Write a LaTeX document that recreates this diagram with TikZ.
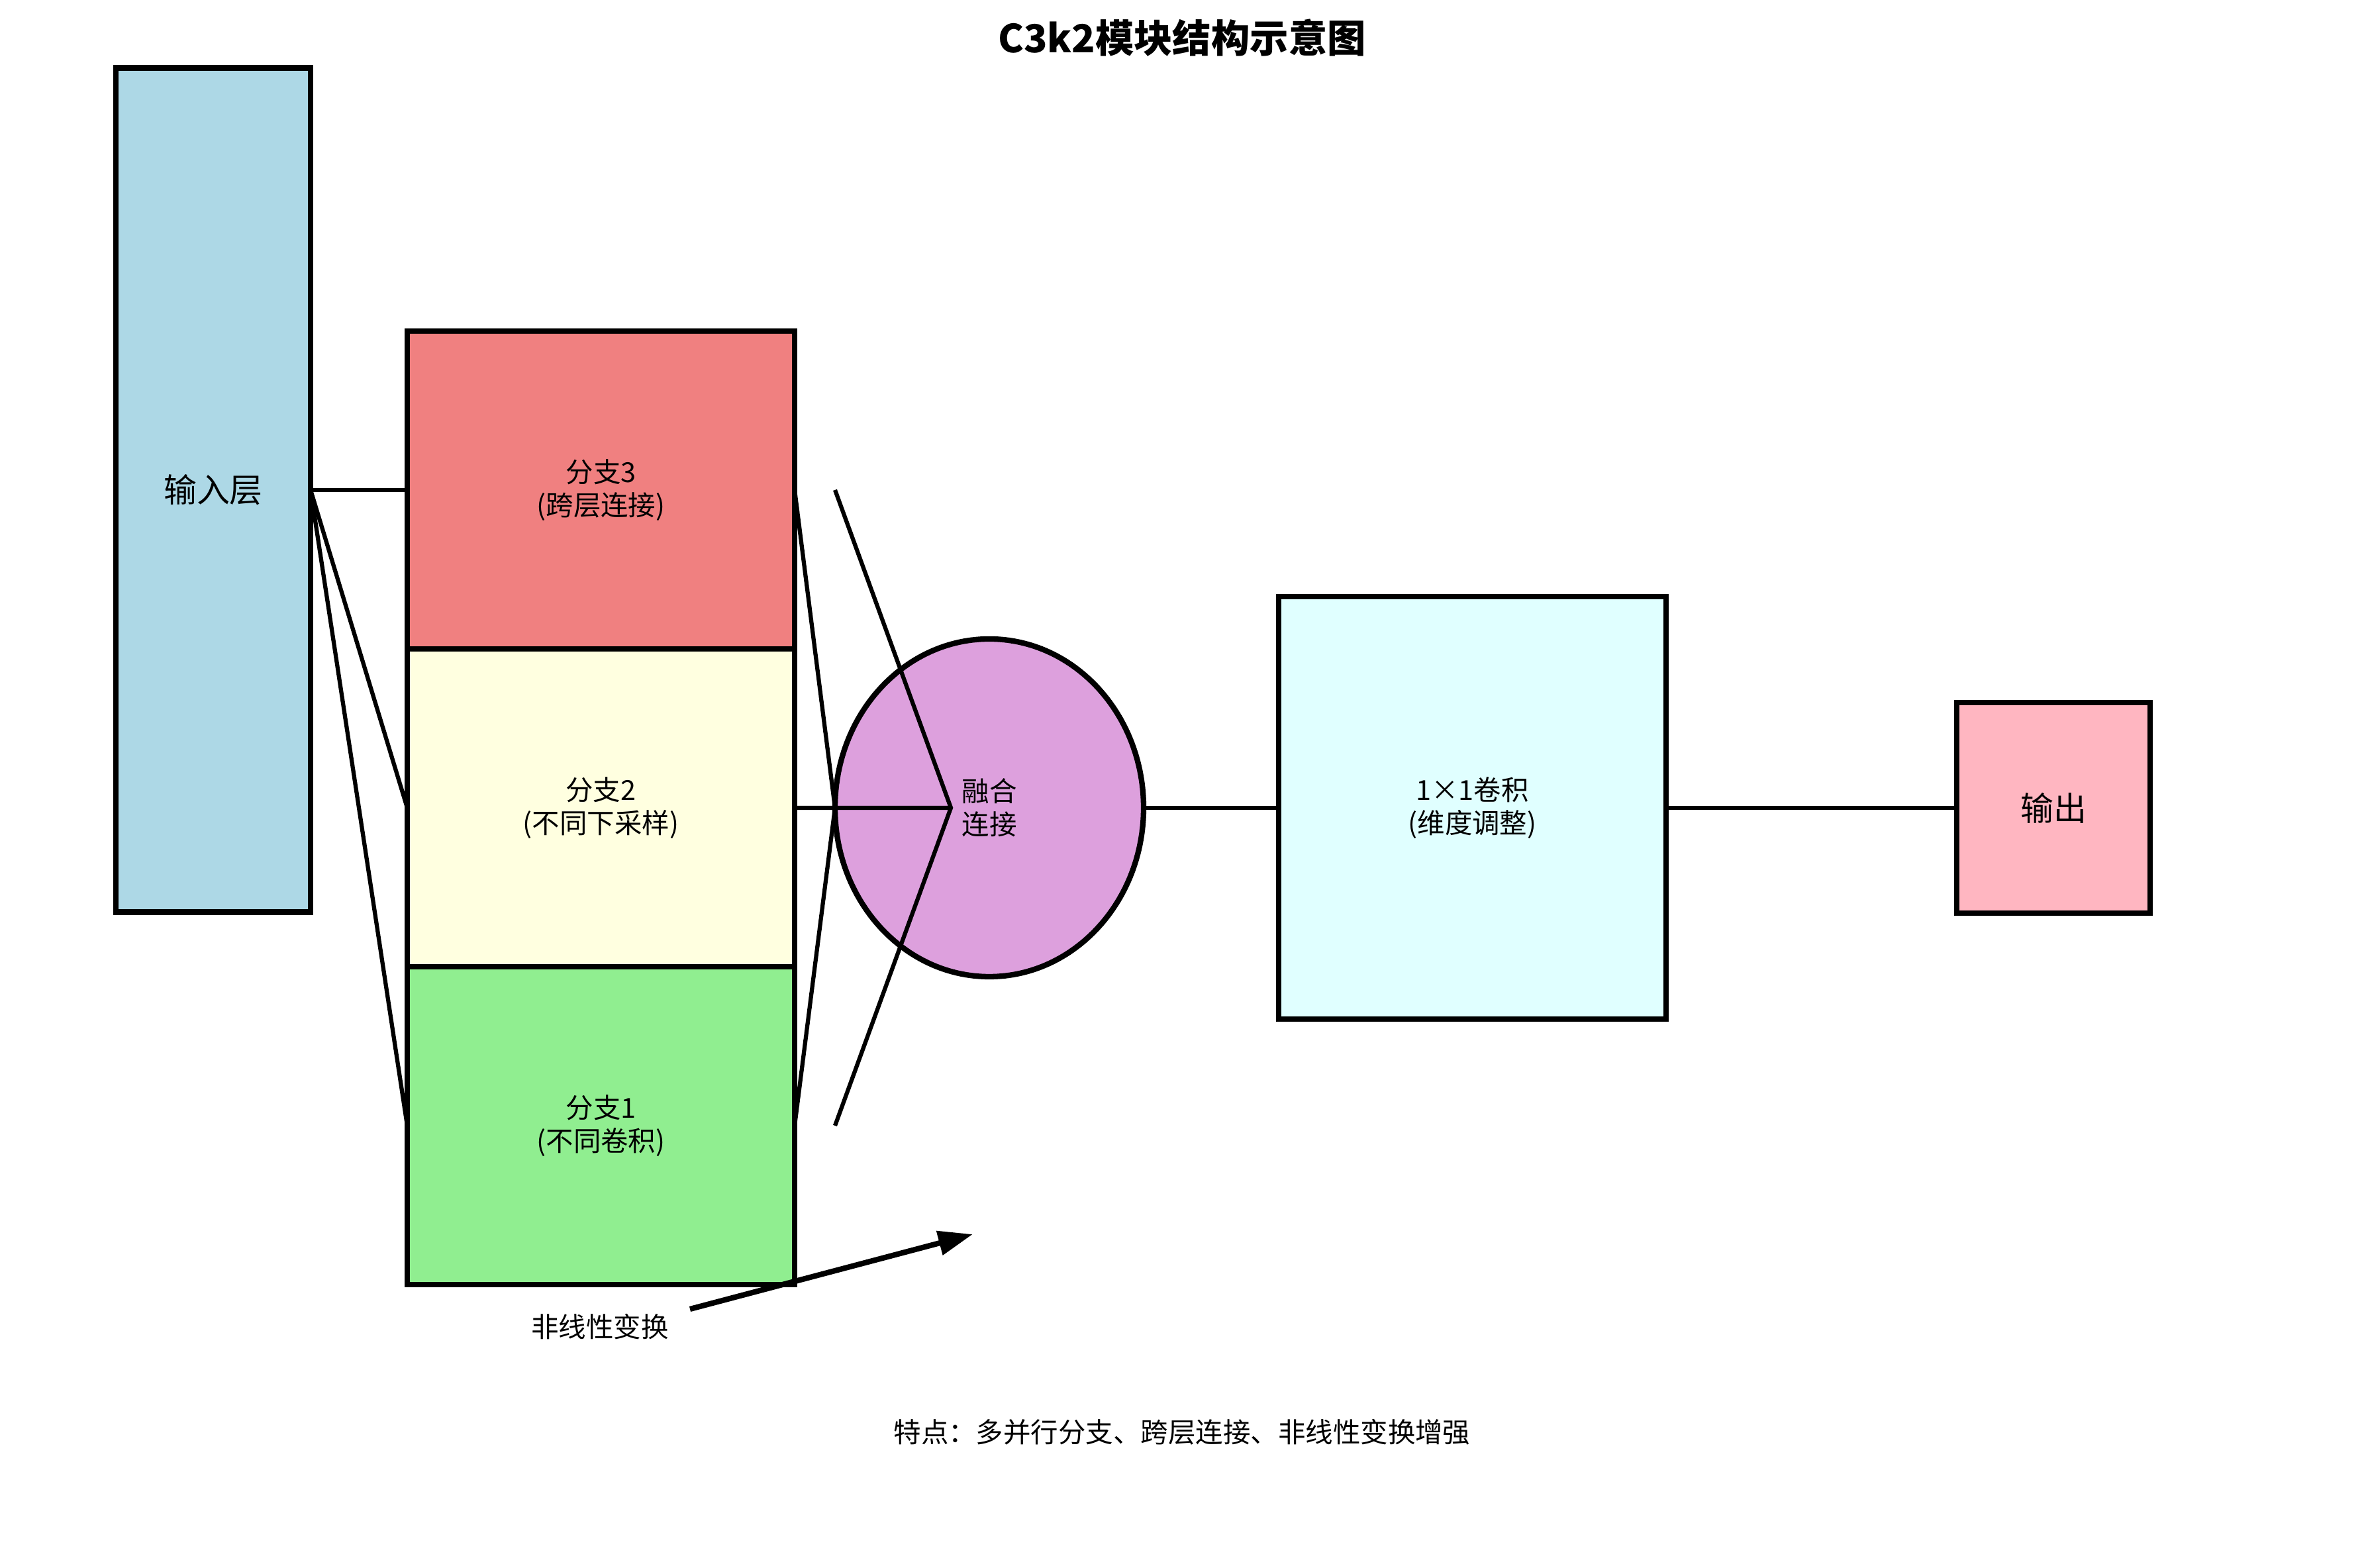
\documentclass[tikz,border=0pt]{standalone}
\usepackage{fontspec}
\setmainfont{Noto Sans CJK SC}
\usepackage{tikz}
\usetikzlibrary{arrows.meta,positioning,shapes.geometric,calc}
\definecolor{inblue}{HTML}{ADD8E6}
\definecolor{brred}{HTML}{F08080}
\definecolor{bryellow}{HTML}{FFFFE0}
\definecolor{brgreen}{HTML}{90EE90}
\definecolor{fuseplum}{HTML}{DDA0DD}
\definecolor{convcyan}{HTML}{E0FFFF}
\definecolor{outpink}{HTML}{FFB6C1}

\begin{document}
\begin{tikzpicture}[>=Stealth, x=1cm, y=1cm, font=\fontsize{11.8}{14.2}\selectfont,
  block/.style={draw, line width=2.36pt, rectangle, inner sep=0pt, outer sep=0pt, align=center},
  branch/.style={block, minimum width=5.85cm, minimum height=4.8cm},
  link/.style={line width=1.78pt}]
\useasboundingbox (0,0) rectangle (35.7,23.68);
\node[font=\fontsize{16.6}{20}\selectfont\bfseries] (title) at (17.85,23.11) {C3k2模块结构示意图};
% input and the three parallel branches, stacked
\node[block, fill=inblue, minimum width=2.94cm, minimum height=12.75cm, font=\fontsize{14.2}{17}\selectfont] (inp) at (3.22,16.28) {输入层};
\node[branch, fill=brred] (br3) at (9.075,16.28) {分支3\\(跨层连接)};
\node[branch, fill=bryellow, below=0pt of br3] (br2) {分支2\\(不同下采样)};
\node[branch, fill=brgreen, below=0pt of br2] (br1) {分支1\\(不同卷积)};
% fusion, 1x1 conv and output on one line
\node[ellipse, draw, line width=2.36pt, fill=fuseplum, minimum width=4.66cm, minimum height=5.10cm, inner sep=0pt, outer sep=0pt, align=center] (fuse) at (14.94,11.48) {融合\\连接};
\node[block, fill=convcyan, minimum width=5.85cm, minimum height=6.38cm] (conv) at (22.235,11.48) {1×1卷积\\(维度调整)};
\node[block, fill=outpink, minimum width=2.92cm, minimum height=3.18cm, font=\fontsize{14.2}{17}\selectfont] (out) at (31.01,11.48) {输出};
% connectors
\draw[link] (inp.east) -- (br3.west);
\foreach \b in {br2,br1} {\draw[link] (inp.east) -- (\b.west);}
\foreach \b in {br3,br1} {\draw[link] (\b.east) -- (fuse.west);}
\coordinate (vtip) at ($(fuse.center)+(-0.58,0)$);
\coordinate (vtop) at (fuse.west |- br3.east);
\coordinate (vbot) at (fuse.west |- br1.east);
\draw[link] (br2.east) -- (vtip);
\draw[link] (vtop) -- (vtip) -- (vbot);
\draw[link] (fuse.east) -- (conv.west);
\draw[link] (conv.east) -- (out.west);
% the non-linear arrow below
\node (nltext) at (9.06,3.64) {非线性变换};
\coordinate (nlfrom) at (10.42,3.91);
\coordinate (nlto) at (14.69,5.04);
\draw[-{Triangle[length=5.2mm, width=3.6mm]}, line width=2.36pt] (nlfrom) -- (nlto);
\node (note) at (17.85,2.05) {特点：多并行分支、跨层连接、非线性变换增强};
\end{tikzpicture}
\end{document}
